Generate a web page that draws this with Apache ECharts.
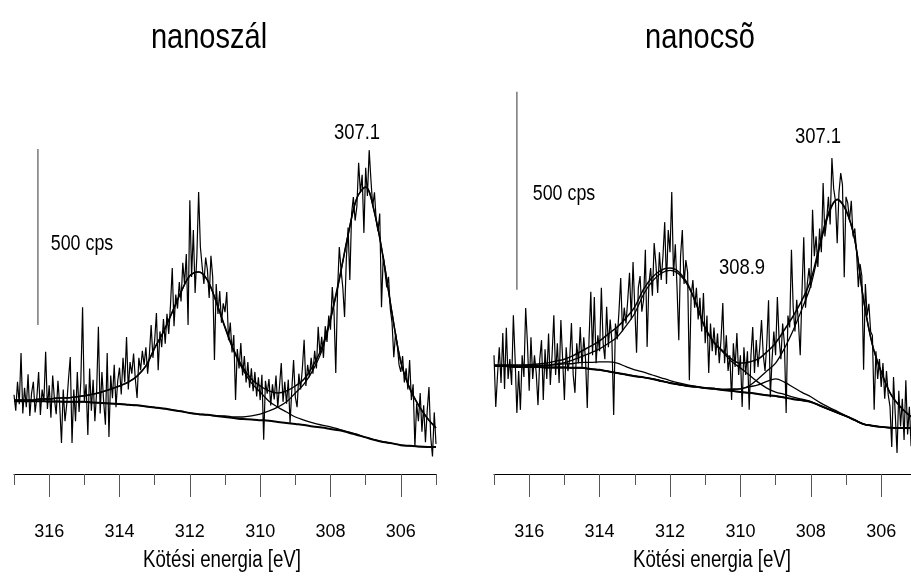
<!DOCTYPE html>
<html>
<head>
<meta charset="utf-8">
<script src="https://cdn.jsdelivr.net/npm/echarts@6/dist/echarts.min.js"></script>
<style>
  html, body { margin: 0; padding: 0; background: #fff; }
  #chart { width: 911px; height: 583px; }
</style>
</head>
<body>
<div id="chart"></div>
<script>
// Binding-energy grids: measured counts every 0.05 eV, fitted curves every 0.25 eV
const energyStart = 317;
const dataStep = 0.05;
const fitStep = 0.25;

const majorTicks = [306, 308, 310, 312, 314, 316];
const minorTicks = [305, 307, 309, 311, 313, 315, 317];
const panelTitles = ['nanoszál', 'nanocsõ'];
const axisTitle = 'Kötési energia [eV]';
const scaleBarText = '500 cps';

// ---- nanoszál (left panel), counts per second ----
const leftCounts = [
  1225, 1180, 1262, 1198, 1344,  1172, 1245, 1190, 1283, 1165,
  1230, 1262, 1175, 1218, 1290,  1168, 1240, 1205, 1347, 1185,
  1252, 1160, 1280, 1212, 1170,  1265, 1195, 1088, 1240, 1150,
  1198, 1270, 1332, 1088, 1240,  1150, 1290, 1176, 1262, 1474,
  1205, 1255, 1111, 1300, 1180,  1268, 1150, 1235, 1418, 1172,
  1290, 1205, 1140, 1344, 1105,  1280, 1215, 1310, 1190, 1265,
  1302, 1226, 1330, 1260, 1389,  1240, 1318, 1285, 1342, 1270,
  1216, 1330, 1295, 1350, 1310,  1360, 1285, 1340, 1423, 1330,
  1380, 1457, 1295, 1405, 1360,  1440, 1370, 1455, 1398, 1480,
  1585, 1420, 1510, 1470, 1545,  1490, 1600, 1540, 1625, 1423,
  1778, 1560, 1693, 1514, 1620,  1801, 1645, 1590, 1540, 1615,
  1580, 1500, 1620, 1560, 1324,  1540, 1455, 1520, 1430, 1485,
  1460, 1517, 1380, 1430, 1345,  1395, 1210, 1355, 1300, 1372,
  1280, 1335, 1260, 1318, 1245,  1300, 1235, 1290, 1220, 1275,
  1210, 1282, 1097, 1265, 1228,  1270, 1195, 1255, 1212, 1280,
  1190, 1250, 1315, 1205, 1262,  1200, 1268, 1145, 1240, 1324,
  1218, 1190, 1285, 1240, 1300,  1381, 1250, 1310, 1275, 1330,
  1285, 1350, 1300, 1418, 1340,  1390, 1330, 1420, 1375, 1450,
  1410, 1531, 1460, 1287, 1520,  1645, 1580, 1530, 1446, 1610,
  1700, 1551, 1740, 1787, 1720,  1760, 1884, 1800, 1850, 1685,
  1870, 1790, 1920, 1835, 1760,  1800, 1720, 1690, 1740, 1474,
  1620, 1575, 1530, 1560, 1470,  1430, 1332, 1400, 1365, 1310,
  1290, 1335, 1260, 1300, 1240,  1324, 1210, 1255, 1077, 1200,
  1150, 1230, 1120, 1195, 1090,  1180, 1247, 1105, 1050, 1175,
  1085
];
const leftEnvelope = [
  1210, 1210, 1210, 1213, 1213, 1216, 1216, 1219, 1222, 1227,
  1233, 1241, 1250, 1261, 1278, 1307, 1358, 1404, 1460, 1517,
  1563, 1574, 1551, 1489, 1418, 1352, 1304, 1270, 1250, 1236,
  1230, 1236, 1250, 1270, 1307, 1358, 1443, 1555, 1679, 1784,
  1815, 1743, 1614, 1457, 1318, 1244, 1196, 1159, 1131
];
const leftPeak312 = [
  1210, 1210, 1210, 1213, 1213, 1216, 1216, 1219, 1222, 1227,
  1233, 1241, 1250, 1261, 1278, 1307, 1358, 1404, 1460, 1517,
  1563, 1574, 1551, 1489, 1415, 1349, 1298, 1259, 1233, 1207,
  1190, 1176, 1162, 1153, 1145, 1139, 1134, 1127, 1120, 1113,
  1104, 1097, 1091, 1087, 1082, 1080, 1078, 1077, 1077
];
const leftPeak307 = [
  1207, 1207, 1207, 1207, 1206, 1206, 1205, 1205, 1205, 1203,
  1202, 1200, 1199, 1197, 1195, 1192, 1189, 1186, 1182, 1178,
  1173, 1170, 1168, 1165, 1165, 1162, 1162, 1165, 1170, 1179,
  1190, 1205, 1230, 1256, 1295, 1349, 1437, 1551, 1679, 1784,
  1815, 1743, 1614, 1457, 1318, 1244, 1196, 1159, 1131
];
const leftBackground = [
  1207, 1207, 1207, 1207, 1206, 1206, 1205, 1205, 1205, 1203,
  1202, 1200, 1199, 1197, 1195, 1192, 1189, 1186, 1182, 1178,
  1173, 1170, 1168, 1165, 1162, 1159, 1156, 1155, 1153, 1151,
  1148, 1145, 1142, 1139, 1135, 1132, 1128, 1124, 1118, 1111,
  1104, 1097, 1091, 1087, 1082, 1080, 1078, 1077, 1077
];

// ---- nanocsõ (right panel), counts per second ----
const rightCounts = [
  1300, 1169, 1250, 1320, 1230,  1356, 1215, 1369, 1240, 1290,
  1225, 1401, 1290, 1154, 1260,  1162, 1300, 1245, 1419, 1330,
  1210, 1345, 1240, 1300, 1255,  1174, 1290, 1338, 1187, 1315,
  1240, 1355, 1225, 1300, 1401,  1250, 1330, 1230, 1389, 1290,
  1187, 1320, 1260, 1290, 1381,  1250, 1205, 1330, 1280, 1371,
  1270, 1345, 1290, 1167, 1340,  1460, 1300, 1447, 1280, 1350,
  1310, 1470, 1330, 1290, 1422,  1320, 1390, 1335, 1149, 1380,
  1340, 1410, 1495, 1360, 1420,  1380, 1440, 1508, 1390, 1535,
  1420, 1306, 1470, 1500, 1410,  1440, 1566, 1321, 1480, 1520,
  1450, 1583, 1530, 1457, 1560,  1490, 1550, 1636, 1480, 1616,
  1560, 1712, 1500, 1580, 1470,  1338, 1550, 1616, 1480, 1540,
  1510, 1237, 1450, 1490, 1420,  1470, 1390, 1445, 1360, 1457,
  1330, 1400, 1255, 1380, 1310,  1370, 1300, 1355, 1280, 1340,
  1432, 1280, 1350, 1260, 1300,  1187, 1330, 1270, 1356, 1250,
  1300, 1169, 1320, 1250, 1310,  1162, 1300, 1371, 1255, 1338,
  1270, 1320, 1389, 1300, 1260,  1330, 1439, 1194, 1290, 1360,
  1300, 1447, 1340, 1290, 1380,  1330, 1154, 1400, 1370, 1566,
  1420, 1360, 1440, 1380, 1300,  1460, 1598, 1420, 1480, 1520,
  1470, 1667, 1550, 1600, 1523,  1620, 1560, 1735, 1600, 1640,
  1700, 1630, 1798, 1720, 1690,  1583, 1710, 1760, 1730, 1497,
  1700, 1684, 1640, 1690, 1600,  1620, 1560, 1472, 1530, 1500,
  1263, 1480, 1400, 1430, 1360,  1350, 1162, 1310, 1240, 1290,
  1220, 1280, 1190, 1260, 1200,  1170, 1068, 1245, 1150, 1053,
  1210, 1120, 1190, 1086, 1237,  1100, 1170, 1070, 1140, 1120,
  1110
];
const rightEnvelope = [
  1275, 1275, 1275, 1275, 1276, 1278, 1280, 1285, 1290, 1299,
  1311, 1323, 1336, 1354, 1371, 1394, 1422, 1467, 1497, 1515,
  1520, 1510, 1480, 1429, 1369, 1333, 1311, 1290, 1280, 1283,
  1290, 1308, 1331, 1364, 1399, 1439, 1490, 1578, 1659, 1694,
  1667, 1591, 1439, 1326, 1258, 1205, 1174, 1152, 1136
];
const rightPeak312 = [
  1274, 1274, 1274, 1273, 1274, 1274, 1275, 1278, 1281, 1288,
  1297, 1306, 1316, 1330, 1346, 1374, 1406, 1454, 1487, 1507,
  1514, 1505, 1477, 1428, 1368, 1331, 1308, 1284, 1268, 1250,
  1232, 1217, 1207, 1201, 1194, 1189, 1183, 1173, 1164, 1155,
  1146, 1136, 1126, 1122, 1119, 1117, 1116, 1116, 1116
];
const rightPeak314 = [
  1273, 1273, 1272, 1272, 1273, 1274, 1274, 1276, 1278, 1279,
  1282, 1282, 1283, 1283, 1280, 1271, 1263, 1257, 1250, 1243,
  1236, 1230, 1225, 1221, 1217, 1215, 1212, 1210, 1207, 1205,
  1202, 1199, 1197, 1193, 1189, 1186, 1182, 1173, 1164, 1155,
  1146, 1136, 1126, 1122, 1119, 1117, 1116, 1116, 1116
];
const rightPeak309 = [
  1273, 1273, 1271, 1270, 1270, 1270, 1269, 1269, 1269, 1268,
  1268, 1265, 1263, 1259, 1255, 1251, 1247, 1244, 1240, 1235,
  1230, 1226, 1222, 1220, 1217, 1216, 1213, 1214, 1215, 1220,
  1225, 1234, 1240, 1232, 1219, 1206, 1195, 1181, 1169, 1158,
  1147, 1136, 1126, 1122, 1119, 1117, 1116, 1116, 1116
];
const rightPeak307 = [
  1273, 1273, 1271, 1270, 1270, 1270, 1269, 1269, 1269, 1268,
  1268, 1265, 1263, 1259, 1255, 1251, 1247, 1244, 1240, 1235,
  1230, 1226, 1222, 1220, 1217, 1216, 1214, 1214, 1215, 1223,
  1240, 1260, 1280, 1317, 1363, 1417, 1476, 1571, 1654, 1692,
  1665, 1591, 1439, 1326, 1258, 1205, 1174, 1152, 1136
];
const rightBackground = [
  1273, 1273, 1271, 1270, 1270, 1270, 1269, 1269, 1269, 1268,
  1268, 1265, 1263, 1259, 1255, 1251, 1247, 1244, 1240, 1235,
  1230, 1226, 1222, 1220, 1217, 1215, 1212, 1210, 1207, 1205,
  1202, 1199, 1197, 1193, 1189, 1186, 1182, 1173, 1164, 1155,
  1146, 1136, 1126, 1122, 1119, 1117, 1116, 1116, 1116
];

// 500 cps scale bars (energy position, lower and upper count)
const scaleBarEnergy = [316.32, 316.35];
const leftScaleBar = [1423, 1923];
const rightScaleBar = [1465, 1965];

// Peak position annotations
const peakLabels = [
  { panel: 0, text: '307.1' },
  { panel: 1, text: '307.1' },
  { panel: 1, text: '308.9' }
];

const FONT = "'Liberation Sans', Arial, Helvetica, sans-serif";

const dataEnergies = leftCounts.map((_, i) => +(energyStart - i * dataStep).toFixed(2));
const fitEnergies = leftEnvelope.map((_, i) => +(energyStart - i * fitStep).toFixed(2));
const pairs = (xs, ys) => ys.map((y, i) => [xs[i], y]);

// Panel geometry: the count floor sits on the energy axis line
const gridTop = 74, gridHeight = 400, countFloor = 1000;
const panels = [
  { left: 14, width: 422, barPx: 176 },
  { left: 494, width: 422.4, barPx: 198 }
];

const grids = panels.map(p => ({
  left: p.left, width: p.width, top: gridTop, height: gridHeight,
  containLabel: false, outerBoundsMode: 'none'
}));

const xAxes = [];
panels.forEach((p, g) => {
  xAxes.push({
    type: 'value', gridIndex: g, min: 305, max: 317, inverse: true, position: 'bottom',
    splitLine: { show: false },
    axisLine: { show: true, onZero: false, lineStyle: { color: '#000', width: 1 } },
    axisTick: { show: true, length: 23, customValues: majorTicks, lineStyle: { color: '#555', width: 1 } },
    axisLabel: { show: true, customValues: majorTicks, margin: 49, fontSize: 18, fontFamily: FONT, color: '#000' }
  });
  xAxes.push({
    type: 'value', gridIndex: g, min: 305, max: 317, inverse: true, position: 'bottom',
    splitLine: { show: false },
    axisLine: { show: false },
    axisTick: { show: true, length: 11, customValues: minorTicks, lineStyle: { color: '#555', width: 1 } },
    axisLabel: { show: false }
  });
});

const yAxes = panels.map((p, g) => ({
  type: 'value', gridIndex: g, show: false,
  min: countFloor, max: countFloor + gridHeight * 500 / p.barPx,
  splitLine: { show: false }
}));

function curve(g, xs, ys, width, color, smooth, z) {
  return {
    type: 'line', xAxisIndex: g * 2, yAxisIndex: g,
    data: pairs(xs, ys), symbol: 'none', showSymbol: false,
    smooth: smooth ? 0.35 : false, z: z,
    lineStyle: { width: width, color: color }, silent: true
  };
}

const series = [
  curve(0, dataEnergies, leftCounts, 1.2, '#000', false, 2),
  curve(0, fitEnergies, leftBackground, 2, '#000', true, 3),
  curve(0, fitEnergies, leftPeak307, 1.3, '#000', true, 3),
  curve(0, fitEnergies, leftPeak312, 1.3, '#000', true, 3),
  curve(0, fitEnergies, leftEnvelope, 1.5, '#000', true, 4),
  curve(0, [scaleBarEnergy[0], scaleBarEnergy[0]], leftScaleBar, 1.5, '#777', false, 2),

  curve(1, dataEnergies, rightCounts, 1.2, '#000', false, 2),
  curve(1, fitEnergies, rightBackground, 2, '#000', true, 3),
  curve(1, fitEnergies, rightPeak314, 1.3, '#000', true, 3),
  curve(1, fitEnergies, rightPeak309, 1.3, '#000', true, 3),
  curve(1, fitEnergies, rightPeak307, 1.3, '#000', true, 3),
  curve(1, fitEnergies, rightPeak312, 1.3, '#000', true, 3),
  curve(1, fitEnergies, rightEnvelope, 1.5, '#000', true, 4),
  curve(1, [scaleBarEnergy[1], scaleBarEnergy[1]], rightScaleBar, 1.5, '#777', false, 2)
];

// Narrow-set text: regular face compressed horizontally
function label(text, x, y, size, squeeze) {
  return {
    type: 'text', x: x, y: y, scaleX: squeeze, scaleY: 1.05, silent: true,
    style: {
      text: text, x: 0, y: 0, fill: '#000', fontSize: size, fontFamily: FONT,
      align: 'center', verticalAlign: 'middle',
      textAlign: 'center', textVerticalAlign: 'middle'
    }
  };
}

const peakLabelPos = [[357, 133], [818, 137], [742, 268]];

const graphic = [
  label(panelTitles[0], 209, 38, 33, 0.88),
  label(panelTitles[1], 700, 38, 33, 0.88),
  label(axisTitle, 222, 561, 22, 0.85),
  label(axisTitle, 712, 561, 22, 0.85),
  label(scaleBarText, 82, 244, 21, 0.85),
  label(scaleBarText, 564, 194, 21, 0.85)
].concat(peakLabels.map((p, i) => label(p.text, peakLabelPos[i][0], peakLabelPos[i][1], 21, 0.88)));

const chart = echarts.init(document.getElementById('chart'), null, { renderer: 'canvas' });
chart.setOption({
  animation: false,
  backgroundColor: '#fff',
  grid: grids,
  xAxis: xAxes,
  yAxis: yAxes,
  series: series,
  graphic: graphic
});
</script>
</body>
</html>
